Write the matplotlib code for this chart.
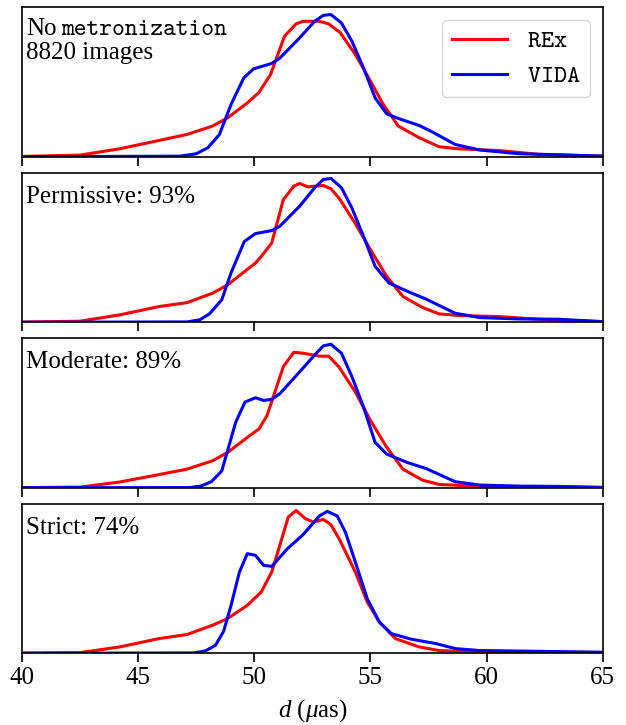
import matplotlib
matplotlib.use("Agg")
import matplotlib.pyplot as plt

plt.rcParams.update({
    "font.family": "Liberation Serif",
    "mathtext.fontset": "custom",
    "mathtext.rm": "Liberation Serif",
    "mathtext.it": "Liberation Serif:italic",
    "mathtext.tt": "cmtt10",
    "axes.linewidth": 1.2,
})

# values, as fraction of panel height
rex_none_x = [40, 42.5, 44.2, 45.9, 47.1, 48.2, 48.85, 49.7, 50.2, 50.7, 51.3, 51.8, 52.1, 52.8, 53.2,
              53.7, 54.35, 55.0, 55.55, 56.2, 57.1, 57.95, 58.8, 60.5, 62.25, 65]
rex_none_y = [0.002, 0.011, 0.053, 0.109, 0.149, 0.205, 0.26, 0.36, 0.43, 0.55, 0.806, 0.889, 0.906, 0.906, 0.889,
              0.83, 0.684, 0.506, 0.35, 0.205, 0.127, 0.067, 0.053, 0.042, 0.016, 0.004]
vida_none_x = [40, 46.8, 47.5, 48.0, 48.5, 49.0, 49.55, 49.97, 50.75, 51.1, 51.95, 52.6, 52.97, 53.3, 53.75,
               54.2, 54.7, 55.2, 55.7, 56.2, 57.1, 57.6, 58.65, 59.7, 61.4, 63.1, 65]
vida_none_y = [0.0, 0.004, 0.02, 0.06, 0.149, 0.35, 0.528, 0.588, 0.624, 0.66, 0.795, 0.906, 0.946, 0.951, 0.895,
               0.773, 0.595, 0.394, 0.287, 0.256, 0.209, 0.171, 0.082, 0.045, 0.02, 0.013, 0.004]

rex_perm_x = [40, 42.5, 44.2, 45.9, 47.1, 48.2, 48.85, 50.05, 50.3, 50.75, 51.25, 51.7, 51.95, 52.3, 52.97,
              53.3, 53.65, 54.35, 55.0, 55.7, 56.4, 57.25, 57.95, 58.8, 60.5, 62.25, 65]
rex_perm_y = [0.001, 0.007, 0.049, 0.105, 0.131, 0.194, 0.25, 0.396, 0.44, 0.53, 0.82, 0.91, 0.928, 0.906, 0.915,
              0.893, 0.83, 0.66, 0.485, 0.306, 0.172, 0.098, 0.056, 0.045, 0.038, 0.02, 0.004]
vida_perm_x = [40, 47.1, 47.65, 48.07, 48.6, 49.0, 49.57, 50.05, 50.75, 51.1, 51.95, 52.6, 52.97, 53.3, 53.75,
               54.2, 54.7, 55.2, 55.8, 56.6, 57.4, 58.65, 59.7, 61.4, 63.1, 65]
vida_perm_y = [0.0, 0.002, 0.016, 0.056, 0.15, 0.33, 0.54, 0.593, 0.613, 0.642, 0.776, 0.9, 0.955, 0.962, 0.9,
               0.765, 0.575, 0.374, 0.262, 0.206, 0.154, 0.06, 0.031, 0.022, 0.02, 0.004]

rex_mod_x = [40, 42.5, 44.2, 45.9, 47.1, 48.2, 48.85, 49.8, 50.2, 50.55, 51.25, 51.7, 52.1, 52.8, 53.2,
             53.65, 54.35, 55.0, 55.7, 56.4, 57.25, 57.95, 59.7, 65]
rex_mod_y = [0.001, 0.004, 0.038, 0.088, 0.124, 0.18, 0.236, 0.348, 0.393, 0.483, 0.81, 0.906, 0.9, 0.88, 0.88,
             0.807, 0.64, 0.45, 0.27, 0.124, 0.05, 0.022, 0.009, 0.002]
vida_mod_x = [40, 47.2, 47.7, 48.15, 48.6, 49.2, 49.6, 50.05, 50.4, 50.75, 51.1, 51.95, 52.6, 52.97, 53.3,
              53.75, 54.2, 54.7, 55.2, 55.7, 56.6, 57.4, 58.65, 59.7, 61.4, 63.1, 65]
vida_mod_y = [0.0, 0.001, 0.011, 0.04, 0.112, 0.438, 0.573, 0.602, 0.584, 0.591, 0.629, 0.775, 0.888, 0.949, 0.96,
              0.9, 0.744, 0.54, 0.303, 0.225, 0.168, 0.128, 0.04, 0.018, 0.011, 0.009, 0.002]

rex_strict_x = [40, 42.5, 44.2, 45.9, 47.1, 48.2, 48.85, 49.7, 50.3, 50.75, 51.1, 51.46, 51.8, 52.2, 52.55,
                52.97, 53.3, 53.65, 54.35, 54.86, 55.38, 56.07, 57.1, 57.95, 59.7, 65]
rex_strict_y = [0.001, 0.004, 0.042, 0.098, 0.125, 0.187, 0.232, 0.32, 0.41, 0.543, 0.722, 0.91, 0.955, 0.9, 0.877,
                0.895, 0.86, 0.766, 0.543, 0.343, 0.209, 0.098, 0.042, 0.018, 0.007, 0.002]
vida_strict_x = [40, 47.4, 47.9, 48.33, 48.68, 49.0, 49.36, 49.7, 50.05, 50.4, 50.75, 51.43, 52.1, 52.8, 53.14,
                 53.57, 53.92, 54.35, 54.86, 55.38, 55.9, 56.75, 57.8, 58.65, 59.7, 65]
vida_strict_y = [0.0, 0.002, 0.016, 0.053, 0.147, 0.32, 0.543, 0.666, 0.655, 0.588, 0.581, 0.7, 0.793, 0.918, 0.949,
                 0.918, 0.81, 0.61, 0.365, 0.209, 0.131, 0.094, 0.065, 0.031, 0.018, 0.007]

labels = ["No", "Permissive: 93%", "Moderate: 89%", "Strict: 74%"]
rex = [(rex_none_x, rex_none_y), (rex_perm_x, rex_perm_y), (rex_mod_x, rex_mod_y), (rex_strict_x, rex_strict_y)]
vida = [(vida_none_x, vida_none_y), (vida_perm_x, vida_perm_y), (vida_mod_x, vida_mod_y),
        (vida_strict_x, vida_strict_y)]
xticks = [40, 45, 50, 55, 60, 65]

FS = 18


def main() -> None:
    fig, axes = plt.subplots(4, 1, sharex=True, figsize=(6.26, 7.25), dpi=100)
    fig.subplots_adjust(left=0.035, right=0.963, top=0.99, bottom=0.099, hspace=0.107)
    texts = []
    for i, ax in enumerate(axes):
        ax.plot(rex[i][0], rex[i][1], color="red", lw=2.2, label=r"$\mathtt{REx}$")
        ax.plot(vida[i][0], vida[i][1], color="blue", lw=2.2, label=r"$\mathtt{VIDA}$")
        ax.set_xlim(40, 65)
        ax.set_ylim(0, 1)
        ax.set_yticks([])
        ax.set_xticks(xticks)
        ax.tick_params(axis="x", direction="out", length=6.5, width=1.2, pad=3.5, labelsize=FS)
        ty = 0.817 if i == 0 else 0.8
        texts.append(ax.text(0.007, ty, labels[i], transform=ax.transAxes,
                             ha="left", va="baseline", fontsize=FS))

    # mono word after "No" and the image count line
    fig.canvas.draw()
    w = texts[0].get_window_extent().width * 72 / fig.dpi
    axes[0].annotate("metronization", xy=(0.007, 0.817), xycoords="axes fraction",
                     xytext=(w + 3.5, 0), textcoords="offset points",
                     ha="left", va="baseline", fontsize=17.5, family="cmtt10")
    axes[0].text(0.007, 0.655, "8820 images", transform=axes[0].transAxes,
                 ha="left", va="baseline", fontsize=FS)

    axes[0].legend(loc="upper right", fontsize=18, handlelength=2.2)
    axes[-1].set_xlabel(r"$d$ ($\mu$as)", fontsize=FS, labelpad=5.5)
    fig.savefig("out.png")


if __name__ == "__main__":
    main()
